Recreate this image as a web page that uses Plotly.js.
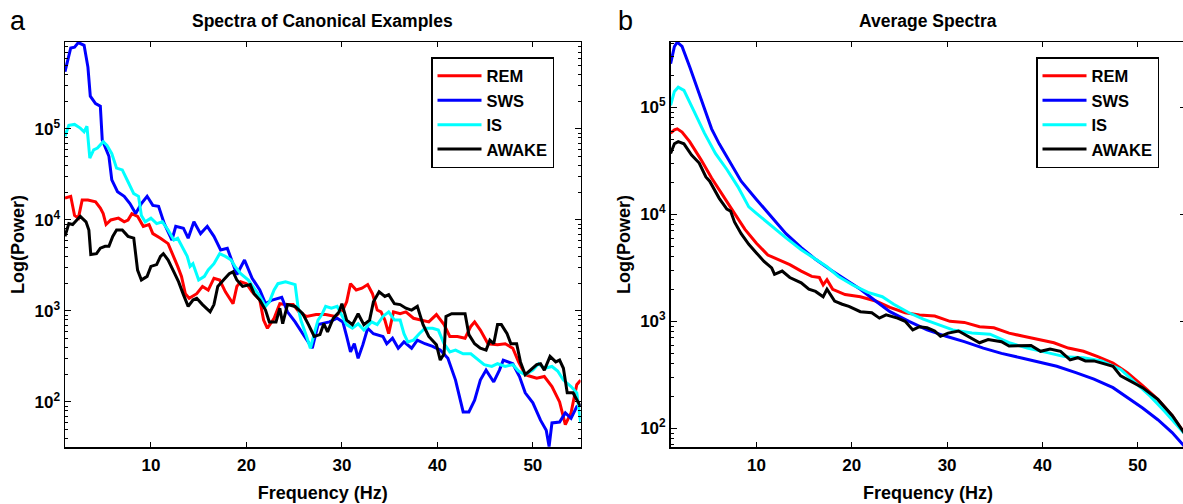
<!DOCTYPE html>
<html><head><meta charset="utf-8">
<script src="https://cdn.plot.ly/plotly-3.0.1.min.js"></script>
<style>html,body{margin:0;padding:0;overflow:hidden;background:#fff}#chart{width:1186px;height:504px}</style>
</head><body><div id="chart"></div>
<script>
// ---------- Data (power values stored as log10) ----------
const seriesNames = ['REM', 'SWS', 'IS', 'AWAKE'];
const seriesColors = ['#ff0000', '#0000ff', '#00ffff', '#000000'];

// Panel a: Spectra of Canonical Examples
const remF = [1,1.6,2.0,2.4,2.8,3.4,4.2,4.7,5.0,5.3,5.8,6.6,7.2,7.6,8.0,8.6,9.2,9.8,10.2,11.0,11.8,12.4,12.8,13.2,13.6,14.0,14.8,15.4,16.0,16.6,17.2,17.8,18.6,19.0,19.4,20.0,20.6,21.4,21.8,22.2,22.9,23.5,24.1,24.9,25.5,26.3,27.3,28.3,29.3,30.1,30.5,30.9,31.5,32.1,32.7,33.2,33.7,34.1,34.5,34.9,35.4,36.1,36.7,37.5,38.3,39.1,39.9,40.7,41.3,42.1,42.9,43.5,43.9,44.5,45.3,46.3,47.1,47.9,48.5,49.2,49.8,50.4,51.2,52.0,52.8,53.4,54.0,54.6,55.0];
const remLog = [4.24,4.26,4.05,4.02,4.22,4.22,4.20,4.13,4.07,3.95,4.0,4.02,3.98,4.0,4.07,4.04,3.93,3.95,3.85,3.80,3.74,3.60,3.49,3.38,3.19,3.14,3.19,3.27,3.23,3.36,3.34,3.21,3.08,3.27,3.32,3.30,3.21,3.12,2.90,2.81,2.92,3.08,3.07,3.07,2.99,2.94,2.96,2.96,2.94,3.01,3.10,3.30,3.23,3.25,3.29,3.19,3.01,2.99,2.90,2.75,2.99,2.97,2.99,2.92,2.90,2.88,2.96,2.85,2.72,2.72,2.70,2.83,2.88,2.79,2.64,2.63,2.64,2.59,2.44,2.30,2.28,2.26,2.28,2.17,2.00,1.75,1.88,2.19,2.24];

const swsF = [1,1.6,2.0,2.4,3.0,3.4,3.65,4.2,4.7,4.9,5.6,5.9,6.5,7.2,7.8,8.4,9.0,9.6,10.2,10.8,11.4,12.2,12.6,13.4,13.9,14.5,15.2,15.9,16.6,17.3,18.0,19.0,19.8,20.6,21.4,22.0,22.7,23.7,24.3,25.1,25.9,26.9,27.5,28.7,29.5,30.1,30.5,30.9,31.3,31.7,32.2,32.7,33.3,34.3,34.7,35.3,35.9,36.5,37.3,37.9,38.7,39.5,40.3,41.1,41.9,42.7,43.3,43.9,44.5,45.1,45.9,46.5,46.9,47.9,48.6,49.2,50.0,50.8,51.4,51.7,52.0,52.8,53.4,54.0,54.6,55.0];
const swsLog = [5.63,5.89,5.90,5.95,5.92,5.68,5.36,5.28,5.25,4.88,4.70,4.44,4.31,4.26,4.18,4.07,4.18,4.26,4.16,4.15,3.96,3.78,3.93,3.91,3.80,3.98,3.85,3.93,3.82,3.67,3.69,3.40,3.56,3.36,3.23,3.08,3.12,3.15,2.99,2.88,2.75,2.59,2.85,2.88,2.92,2.88,2.72,2.55,2.64,2.48,2.63,2.81,2.75,2.72,2.64,2.70,2.59,2.66,2.59,2.68,2.64,2.61,2.57,2.48,2.24,1.89,1.89,2.02,2.24,2.35,2.22,2.35,2.46,2.42,2.28,2.10,1.99,1.80,1.69,1.51,1.77,1.78,1.88,1.82,1.95,1.97];

const isF = [1,1.4,2.0,2.6,3.0,3.3,3.6,4.0,4.4,5.0,5.4,5.9,6.4,7.0,7.6,8.2,8.7,9.0,9.4,10.0,10.6,11.2,11.8,12.4,12.8,13.4,13.8,14.1,14.4,15.0,15.6,16.0,16.6,17.2,17.8,18.4,18.8,19.4,20.2,20.8,21.4,22.0,22.4,22.9,23.3,24.1,24.7,25.1,25.4,25.7,26.3,26.7,27.1,27.5,27.9,28.3,28.9,29.5,29.9,30.5,31.1,31.7,32.3,33.1,33.7,34.3,34.9,35.5,36.1,36.5,36.9,37.5,38.1,38.7,39.5,40.1,40.7,41.3,41.9,42.7,43.5,44.3,44.9,45.7,46.3,47.1,47.9,48.5,49.2,50.0,50.6,51.2,52.0,52.6,53.2,54.0,54.6,55.0];
const isLog = [4.92,5.04,5.05,5.01,4.97,5.03,4.68,4.77,4.79,4.86,4.82,4.73,4.57,4.55,4.42,4.29,4.26,4.05,3.98,4.02,3.96,3.98,3.89,3.78,3.80,3.69,3.60,3.49,3.52,3.34,3.38,3.45,3.52,3.63,3.60,3.56,3.49,3.41,3.34,3.25,3.16,3.05,3.10,3.23,3.30,3.32,3.30,3.29,3.05,2.90,2.72,2.59,2.75,2.90,2.96,3.05,3.03,3.05,2.97,2.85,2.81,2.86,2.79,2.88,2.85,2.94,2.99,2.90,2.90,2.75,2.66,2.68,2.75,2.81,2.81,2.79,2.64,2.55,2.57,2.53,2.53,2.46,2.41,2.39,2.42,2.39,2.41,2.34,2.30,2.35,2.42,2.37,2.39,2.34,2.24,2.17,2.10,1.78];

const awakeF = [1,1.4,1.8,2.2,2.6,3.2,3.5,3.7,4.3,4.7,5.2,5.6,6.0,6.4,7.0,7.6,8.2,8.6,9.0,9.6,10.0,10.6,11.0,11.3,11.8,12.4,12.9,13.4,13.9,14.4,14.8,15.4,16.2,16.6,17.0,17.6,18.2,18.6,19.0,19.6,20.4,20.8,21.4,22.0,22.4,23.1,23.5,23.8,24.3,25.1,25.9,26.5,27.1,27.7,28.1,28.5,29.1,29.7,30.0,30.5,31.1,31.7,32.3,32.9,33.3,33.9,34.5,34.9,35.5,36.1,36.7,37.3,37.9,38.5,39.1,39.9,40.3,40.7,40.9,41.5,42.3,42.9,43.3,43.9,44.5,45.1,45.5,45.9,46.3,46.7,47.3,47.7,48.3,48.7,49.2,49.8,50.4,50.8,51.2,51.8,52.4,52.8,53.2,53.6,54.2,55.0];
const awakeLog = [3.82,3.96,3.95,4.0,4.04,3.98,3.89,3.62,3.63,3.69,3.71,3.71,3.82,3.89,3.89,3.82,3.80,3.45,3.34,3.38,3.49,3.51,3.60,3.63,3.56,3.43,3.32,3.18,3.05,3.12,3.14,3.07,2.99,3.07,3.27,3.34,3.41,3.43,3.34,3.27,3.29,3.19,3.12,3.01,2.88,2.88,3.03,2.86,3.07,3.05,2.97,2.85,2.72,2.74,2.86,2.77,2.92,2.99,3.08,2.90,2.85,2.97,2.85,2.90,3.10,3.21,3.16,3.18,3.08,3.07,3.03,3.01,3.05,2.85,2.72,2.63,2.46,2.53,2.94,2.97,2.97,2.97,2.74,2.64,2.59,2.57,2.68,2.64,2.85,2.85,2.75,2.64,2.64,2.44,2.30,2.35,2.41,2.42,2.35,2.50,2.44,2.46,2.37,2.10,2.10,1.95];

// Panel b: Average Spectra
const rem2F = [1.0,1.4,1.7,2.2,3.0,4.2,5.3,6.5,7.7,8.8,10,11.2,12.3,13.5,14.7,15.8,16.6,17.0,17.4,18.0,19.3,20.9,22.5,24.0,25.6,27.1,28.7,30.3,31.8,33.4,34.9,36.5,38.0,39.6,41.2,42.7,44.3,45.8,47.4,48.9,50.5,52.1,53.6,55.0];
const rem2Log = [4.76,4.79,4.80,4.77,4.68,4.51,4.34,4.17,4.01,3.86,3.73,3.62,3.58,3.53,3.47,3.42,3.41,3.34,3.39,3.30,3.25,3.23,3.19,3.13,3.08,3.06,3.05,3.00,2.99,2.95,2.94,2.89,2.86,2.83,2.80,2.75,2.72,2.67,2.61,2.52,2.40,2.27,2.12,1.94];

const sws2F = [1.0,1.4,1.7,2.2,3.0,3.8,4.55,5.3,6.1,7.3,8.4,10,11.6,13.1,14.7,16.2,17.8,19.3,20.9,22.5,24.0,26.0,27.9,29.9,31.8,33.8,35.7,37.7,39.6,41.5,43.5,45.4,47.4,48.9,50.5,52.1,53.6,55.0];
const sws2Log = [5.41,5.57,5.61,5.57,5.38,5.18,4.975,4.80,4.66,4.48,4.31,4.14,3.98,3.82,3.69,3.58,3.48,3.39,3.30,3.19,3.09,3.00,2.92,2.86,2.81,2.75,2.70,2.66,2.62,2.58,2.52,2.46,2.38,2.29,2.19,2.08,1.96,1.82];

const is2F = [1.0,1.4,1.8,2.4,3.4,4.55,5.7,6.9,8.05,9.2,10,11.6,13.1,14.7,16.2,17.4,18.6,20.1,21.7,23.2,24.4,26.0,27.5,29.1,30.6,32.6,34.5,36.5,38.4,40.4,42.3,44.3,46.2,48.2,49.7,51.3,52.8,55.0];
const is2Log = [5.02,5.15,5.19,5.16,4.975,4.76,4.57,4.42,4.26,4.07,4.01,3.89,3.78,3.67,3.58,3.51,3.42,3.34,3.27,3.23,3.16,3.08,3.02,2.97,2.92,2.89,2.88,2.80,2.75,2.71,2.67,2.66,2.63,2.55,2.43,2.30,2.16,1.94];

const awake2F = [1.0,1.4,1.8,2.4,3.2,4.0,4.7,5.1,6.1,6.9,7.3,7.7,8.4,9.2,10,10.8,11.6,11.9,12.7,13.5,14.7,15.5,16.2,17.0,17.4,18.2,19.0,19.7,20.9,22.1,22.9,23.6,24.8,25.6,26.4,27.1,27.9,28.7,29.3,30.1,31.2,32.2,33.4,34.3,35.7,36.5,37.7,38.8,39.8,40.8,41.9,42.9,43.7,44.5,45.4,46.6,47.4,48.2,49.4,50.5,52.1,53.6,55.0];
const awake2Log = [4.57,4.66,4.68,4.66,4.555,4.48,4.35,4.31,4.15,4.05,4.03,3.93,3.82,3.72,3.64,3.56,3.50,3.44,3.47,3.41,3.36,3.30,3.28,3.23,3.30,3.19,3.16,3.14,3.09,3.08,3.03,3.06,3.03,3.00,2.92,2.95,2.94,2.91,2.86,2.89,2.91,2.86,2.80,2.83,2.81,2.77,2.77,2.775,2.72,2.74,2.72,2.64,2.66,2.63,2.63,2.60,2.58,2.49,2.43,2.38,2.27,2.12,1.94];

// Tick labels
const xTickVals = [10, 20, 30, 40, 50];
const yTickVals = [100, 1000, 10000, 100000];
const yTickText = ['10<sup>2</sup>', '10<sup>3</sup>', '10<sup>4</sup>', '10<sup>5</sup>'];

// ---------- Layout helpers ----------
const W = 1186, H = 504;
const px = v => v / W, py = v => 1 - v / H;
const FONT = 'Liberation Sans, Arial, Helvetica, sans-serif';
const boldFont = (s) => ({family: FONT, size: s, color: '#000', weight: 'bold'});
const toPow = a => a.map(v => Math.pow(10, v));

const minorY = [];
for (let d = 1; d <= 6; d++) for (let k = 2; k <= 9; k++) minorY.push(k * Math.pow(10, d));

const panelA = [[remF, remLog], [swsF, swsLog], [isF, isLog], [awakeF, awakeLog]];
const panelB = [[rem2F, rem2Log], [sws2F, sws2Log], [is2F, is2Log], [awake2F, awake2Log]];

const traces = [];
panelA.forEach((s, i) => traces.push({
  type: 'scatter', mode: 'lines', name: seriesNames[i], x: s[0], y: toPow(s[1]),
  line: {color: seriesColors[i], width: 3}, xaxis: 'x', yaxis: 'y', legend: 'legend'
}));
panelB.forEach((s, i) => traces.push({
  type: 'scatter', mode: 'lines', name: seriesNames[i], x: s[0], y: toPow(s[1]),
  line: {color: seriesColors[i], width: 3}, xaxis: 'x2', yaxis: 'y2', legend: 'legend2'
}));

const yDom = [py(447), py(42)];
function xAxis(dom, anchor) {
  return {
    domain: dom, anchor: anchor, range: [1, 55], tickmode: 'array', tickvals: xTickVals,
    ticks: 'inside', ticklen: 5, tickwidth: 1, tickcolor: '#000', mirror: 'ticks',
    showline: true, linecolor: '#000', linewidth: 1.5, showgrid: false, zeroline: false,
    tickfont: boldFont(17), ticklabelstandoff: 2,
    title: {text: 'Frequency (Hz)', font: boldFont(18), standoff: 12}
  };
}
function yAxis(range, anchor) {
  return {
    type: 'log', domain: yDom, anchor: anchor, range: range, tickmode: 'array',
    tickvals: yTickVals, ticktext: yTickText,
    ticks: 'inside', ticklen: 6, tickwidth: 1, tickcolor: '#000', mirror: 'ticks',
    showline: true, linecolor: '#000', linewidth: 1.5, showgrid: false, zeroline: false,
    tickfont: boldFont(17),
    minor: {tickmode: 'array', tickvals: minorY, ticks: 'inside', ticklen: 3, tickwidth: 1, tickcolor: '#000', showgrid: false},
    title: {text: 'Log(Power)', font: boldFont(18), standoff: 5}
  };
}
const legendCommon = {
  xanchor: 'left', yanchor: 'top', bgcolor: '#fff', bordercolor: '#000', borderwidth: 1.5,
  font: boldFont(16.5), tracegroupgap: 0, itemwidth: 44, itemclick: false, itemdoubleclick: false
};

const layout = {
  width: W, height: H, margin: {l: 0, r: 0, t: 0, b: 0},
  paper_bgcolor: '#fff', plot_bgcolor: '#fff', showlegend: true, hovermode: false,
  xaxis: xAxis([px(65), px(580.6)], 'y'),
  yaxis: yAxis([1.505, 5.956], 'x'),
  xaxis2: xAxis([px(670.6), px(1185.5)], 'y2'),
  yaxis2: yAxis([1.825, 5.612], 'x2'),
  legend: Object.assign({x: px(431), y: py(57)}, legendCommon),
  legend2: Object.assign({x: px(1036), y: py(57)}, legendCommon),
  annotations: [
    {text: 'Spectra of Canonical Examples', x: px(322.5), y: py(21), xref: 'paper', yref: 'paper', xanchor: 'center', yanchor: 'middle', showarrow: false, font: boldFont(17.5)},
    {text: 'Average Spectra', x: px(928), y: py(21), xref: 'paper', yref: 'paper', xanchor: 'center', yanchor: 'middle', showarrow: false, font: boldFont(17.5)},
    {text: 'a', x: px(18), y: py(21), xref: 'paper', yref: 'paper', xanchor: 'center', yanchor: 'middle', showarrow: false, font: {family: FONT, size: 27, color: '#000'}},
    {text: 'b', x: px(625), y: py(21), xref: 'paper', yref: 'paper', xanchor: 'center', yanchor: 'middle', showarrow: false, font: {family: FONT, size: 27, color: '#000'}}
  ]
};

Plotly.newPlot('chart', traces, layout, {displayModeBar: false, staticPlot: true});
</script>
</body></html>
